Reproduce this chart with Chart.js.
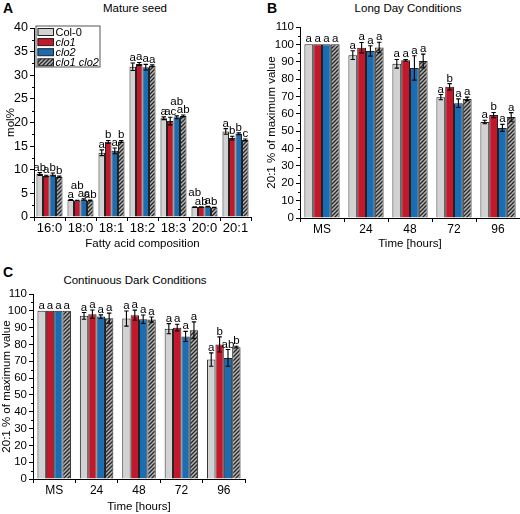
<!DOCTYPE html>
<html><head><meta charset="utf-8">
<script src="https://cdn.jsdelivr.net/npm/chart.js@4.4.0/dist/chart.umd.min.js"></script>
<style>
html,body{margin:0;padding:0;background:#fff;}
body{width:520px;height:514px;position:relative;overflow:hidden;font-family:"Liberation Sans",Arial,sans-serif;color:#000;}
canvas{position:absolute;display:block;}
.lbl{position:absolute;font-weight:bold;font-size:14px;line-height:14px;}
.ttl{position:absolute;font-size:11.5px;line-height:12px;transform:translateX(-50%);white-space:nowrap;font-weight:normal;}
</style></head><body>
<div class="lbl" style="left:3px;top:1px">A</div>
<div class="lbl" style="left:267px;top:1px">B</div>
<div class="lbl" style="left:3px;top:265px">C</div>
<div class="ttl" style="left:135px;top:2px">Mature seed</div>
<div class="ttl" style="left:408px;top:2px">Long Day Conditions</div>
<div class="ttl" style="left:135px;top:274px">Continuous Dark Conditions</div>
<canvas id="cA" width="260" height="255" style="left:0;top:0"></canvas>
<canvas id="cB" width="260" height="255" style="left:260px;top:0"></canvas>
<canvas id="cC" width="260" height="248" style="left:0;top:266px"></canvas>
<script>
// ---------- data ----------
const seriesNames = ['Col-0', 'clo1', 'clo2', 'clo1 clo2'];

// Panel A: mature seed fatty acid composition (mol%)
const seedLabels = ['16:0', '18:0', '18:1', '18:2', '18:3', '20:0', '20:1'];
const seedCol0 = [9.1, 3.6, 13.6, 31.8, 20.9, 2.1, 18.1];
const seedClo1 = [8.7, 3.5, 15.9, 32.4, 20.3, 2.1, 16.7];
const seedClo2 = [9.0, 3.7, 14.0, 31.7, 21.1, 2.2, 17.6];
const seedDbl  = [8.5, 3.5, 16.0, 32.0, 21.4, 2.0, 16.3];
const seedErrCol0 = [0.3, 0.1, 0.6, 0.8, 0.3, 0.05, 0.6];
const seedErrClo1 = [0.15, 0.05, 0.3, 0.3, 0.8, 0.05, 0.4];
const seedErrClo2 = [0.3, 0.15, 0.6, 0.6, 0.3, 0.05, 0.2];
const seedErrDbl  = [0.15, 0.1, 0.2, 0.2, 0.2, 0.05, 0.2];
const seedLetCol0 = ['ab', 'a', 'a', 'a', 'a', 'ab', 'a'];
const seedLetClo1 = ['a', 'ab', 'b', 'a', 'ac', 'ab', 'b'];
const seedLetClo2 = ['b', 'ac', 'a', 'a', 'ab', 'a', 'b'];
const seedLetDbl  = ['b', 'ab', 'b', 'a', 'ab', 'b', 'c'];

// Panel B: long day conditions (20:1 % of maximum)
const ldLabels = ['MS', '24', '48', '72', '96'];
const ldCol0 = [100, 93.8, 88.8, 69.6, 55.3];
const ldClo1 = [100, 98.1, 90.8, 75.6, 59.3];
const ldClo2 = [100, 96.2, 86.4, 66.1, 51.9];
const ldDbl  = [100, 98.2, 90.4, 68.6, 58.2];
const ldErrCol0 = [0, 2.5, 2.5, 1.5, 1.0];
const ldErrClo1 = [0, 3.0, 0.5, 1.8, 1.5];
const ldErrClo2 = [0, 3.0, 7.0, 2.5, 2.0];
const ldErrDbl  = [0, 3.0, 4.0, 1.0, 2.5];
const ldLetCol0 = ['a', 'a', 'a', 'a', 'a'];
const ldLetClo1 = ['a', 'a', 'a', 'b', 'b'];
const ldLetClo2 = ['a', 'a', 'a', 'a', 'a'];
const ldLetDbl  = ['a', 'a', 'a', 'a', 'a'];

// Panel C: continuous dark conditions (20:1 % of maximum)
const cdLabels = ['MS', '24', '48', '72', '96'];
const cdCol0 = [100, 97.0, 95.4, 89.4, 71.0];
const cdClo1 = [100, 98.0, 97.4, 90.0, 80.0];
const cdClo2 = [100, 96.6, 95.0, 84.8, 72.0];
const cdDbl  = [100, 95.6, 94.8, 88.4, 78.4];
const cdErrCol0 = [0, 2.0, 4.5, 3.0, 4.0];
const cdErrClo1 = [0, 2.5, 3.0, 2.0, 4.5];
const cdErrClo2 = [0, 1.0, 2.5, 3.0, 5.0];
const cdErrDbl  = [0, 3.0, 1.5, 5.0, 0.5];
const cdLetCol0 = ['a', 'a', 'a', 'a', 'a'];
const cdLetClo1 = ['a', 'a', 'a', 'a', 'b'];
const cdLetClo2 = ['a', 'a', 'a', 'a', 'ab'];
const cdLetDbl  = ['a', 'a', 'a', 'a', 'b'];

// letter stacking (layout only): how many lines a letter is lifted
const seedLiftCol0 = [0, 0, 0, 0, 0, 1, 0];
const seedLiftClo1 = [0, 1, 0, 0, 0, 0, 0];
const seedLiftClo2 = [0, 0, 0, 0, 1, 0, 0];

// ---------- styling ----------
const FONT = '"Liberation Sans", Arial, sans-serif';
function hatchPattern() {
  const c = document.createElement('canvas');
  c.width = 4; c.height = 4;
  const g = c.getContext('2d');
  g.fillStyle = '#b4b4b4'; g.fillRect(0, 0, 4, 4);
  g.strokeStyle = '#262626'; g.lineWidth = 1.3;
  g.beginPath();
  g.moveTo(-1, 5); g.lineTo(5, -1);
  g.moveTo(-1, 1); g.lineTo(1, -1);
  g.moveTo(3, 5); g.lineTo(5, 3);
  g.stroke();
  return g.createPattern(c, 'repeat');
}
const fills = ['#d2d2d2', '#c3172b', '#1a6db3', hatchPattern()];

const annotPlugin = {
  id: 'annot',
  afterDatasetsDraw(chart) {
    const ctx = chart.ctx, ys = chart.scales.y;
    ctx.save();
    chart.data.datasets.forEach((ds, di) => {
      const meta = chart.getDatasetMeta(di);
      meta.data.forEach((bar, i) => {
        const v = ds.data[i], e = ds.errors[i];
        const x = bar.x;
        const yt = ys.getPixelForValue(v + e), yb = ys.getPixelForValue(v - e);
        if (e > 0) {
          ctx.strokeStyle = '#000'; ctx.lineWidth = 1.1;
          ctx.beginPath();
          ctx.moveTo(x, yt); ctx.lineTo(x, yb);
          ctx.moveTo(x - 2.2, yt); ctx.lineTo(x + 2.2, yt);
          ctx.moveTo(x - 2.2, yb); ctx.lineTo(x + 2.2, yb);
          ctx.stroke();
        }
        const lift = ds.lift ? ds.lift[i] : 0;
        ctx.fillStyle = '#000';
        ctx.font = '11.5px ' + FONT;
        ctx.textAlign = 'center';
        ctx.textBaseline = 'alphabetic';
        ctx.fillText(ds.letters[i], x, Math.min(yt, bar.y) - 2 - lift * 9);
      });
    });
    ctx.restore();
  }
};

const minorPlugin = {
  id: 'minorTicks',
  afterDraw(chart, args, opts) {
    const ys = chart.scales.y, ctx = chart.ctx;
    const x = chart.chartArea.left;
    ctx.save();
    ctx.strokeStyle = '#000'; ctx.lineWidth = 1;
    ctx.beginPath();
    for (let v = opts.step / 2; v < ys.max; v += opts.step) {
      const y = Math.round(ys.getPixelForValue(v)) + 0.5;
      ctx.moveTo(x - 2, y); ctx.lineTo(x, y);
    }
    ctx.stroke();
    ctx.restore();
  }
};

const legendPlugin = {
  id: 'boxLegend',
  afterDraw(chart, args, opts) {
    if (!opts.show) return;
    const ctx = chart.ctx, a = chart.chartArea;
    const x0 = a.left + 1.5, y0 = a.top - 2.5, w = 64, h = 41;
    ctx.save();
    ctx.fillStyle = '#fff';
    ctx.fillRect(x0, y0, w, h);
    ctx.strokeStyle = '#555'; ctx.lineWidth = 1;
    ctx.strokeRect(x0 + 0.5, y0 + 0.5, w, h);
    chart.data.datasets.forEach((ds, i) => {
      const ry = y0 + 6.5 + i * 10.1;
      ctx.fillStyle = ds.backgroundColor;
      ctx.fillRect(x0 + 2, ry - 3.5, 16, 7);
      ctx.strokeStyle = '#222';
      ctx.strokeRect(x0 + 2.5, ry - 3.5, 15.5, 7);
      ctx.fillStyle = '#000';
      ctx.font = (i > 0 ? 'italic ' : '') + '11px ' + FONT;
      ctx.textAlign = 'left'; ctx.textBaseline = 'middle';
      ctx.fillText(ds.label, x0 + 20, ry + 0.5);
    });
    ctx.restore();
  }
};

function makeChart(id, cfg) {
  const datasets = cfg.series.map((vals, i) => ({
    label: seriesNames[i],
    data: vals,
    errors: cfg.errors[i],
    letters: cfg.letters[i],
    lift: cfg.lift ? cfg.lift[i] : null,
    backgroundColor: fills[i],
    borderColor: '#222',
    borderWidth: 1,
    categoryPercentage: cfg.catPct,
    barPercentage: 1.0
  }));
  return new Chart(document.getElementById(id), {
    type: 'bar',
    data: { labels: cfg.labels, datasets },
    plugins: [annotPlugin, minorPlugin, legendPlugin],
    options: {
      responsive: false,
      animation: false,
      layout: { autoPadding: false, padding: { left: 0, top: cfg.top, right: cfg.right, bottom: 0 } },
      plugins: {
        legend: { display: false },
        tooltip: { enabled: false },
        title: { display: false },
        minorTicks: { step: cfg.step },
        boxLegend: { show: !!cfg.legend }
      },
      scales: {
        x: {
          grid: { display: true, drawOnChartArea: false, drawTicks: true, tickLength: 4, color: '#000', offset: true },
          border: { display: true, color: '#000', width: 1 },
          ticks: { color: '#000', font: { family: FONT, size: cfg.xFont }, padding: 0, maxRotation: 0, autoSkip: false },
          title: { display: true, text: cfg.xTitle, color: '#000', font: { family: FONT, size: 11.5 }, padding: { top: 0, bottom: cfg.xTitlePad } },
          afterFit: s => { s.height = cfg.xH; }
        },
        y: {
          min: 0, max: cfg.max,
          grid: { display: true, drawOnChartArea: false, drawTicks: true, tickLength: 4, color: '#000' },
          border: { display: true, color: '#000', width: 1 },
          ticks: { stepSize: cfg.step, color: '#000', font: { family: FONT, size: cfg.yFont }, padding: 2 },
          title: { display: true, text: cfg.yTitle, color: '#000', font: { family: FONT, size: 11.5 }, padding: { top: cfg.yTitlePad, bottom: 0 } },
          afterFit: s => { s.width = cfg.yW; }
        }
      }
    }
  });
}

makeChart('cA', {
  labels: seedLabels,
  series: [seedCol0, seedClo1, seedClo2, seedDbl],
  errors: [seedErrCol0, seedErrClo1, seedErrClo2, seedErrDbl],
  letters: [seedLetCol0, seedLetClo1, seedLetClo2, seedLetDbl],
  lift: [seedLiftCol0, seedLiftClo1, seedLiftClo2, null],
  max: 40, step: 5, catPct: 0.84,
  top: 28, right: 9, xH: 38, yW: 34,
  xTitle: 'Fatty acid composition', yTitle: 'mol%',
  xTitlePad: 4.2, yTitlePad: 4.2, xFont: 13, yFont: 12.5,
  legend: true
});

makeChart('cB', {
  labels: ldLabels,
  series: [ldCol0, ldClo1, ldClo2, ldDbl],
  errors: [ldErrCol0, ldErrClo1, ldErrClo2, ldErrDbl],
  letters: [ldLetCol0, ldLetClo1, ldLetClo2, ldLetDbl],
  max: 110, step: 10, catPct: 0.8,
  top: 27, right: 0, xH: 37, yW: 40,
  xTitle: 'Time [hours]', yTitle: '20:1 % of maximum value',
  xTitlePad: 4.2, yTitlePad: 5.2, xFont: 12, yFont: 11.5
});

makeChart('cC', {
  labels: cdLabels,
  series: [cdCol0, cdClo1, cdClo2, cdDbl],
  errors: [cdErrCol0, cdErrClo1, cdErrClo2, cdErrDbl],
  letters: [cdLetCol0, cdLetClo1, cdLetClo2, cdLetDbl],
  max: 110, step: 10, catPct: 0.79,
  top: 28, right: 15, xH: 35, yW: 33,
  xTitle: 'Time [hours]', yTitle: '20:1 % of maximum value',
  xTitlePad: 0.3, yTitlePad: 0, xFont: 12, yFont: 11.5
});
</script>
</body></html>
